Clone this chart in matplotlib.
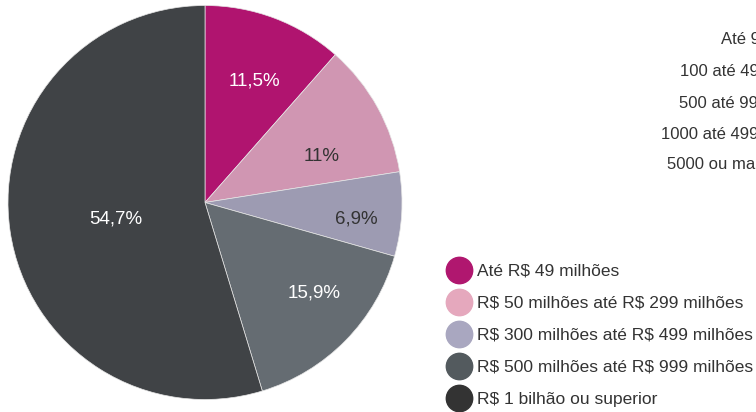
import matplotlib.pyplot as plt
from matplotlib.lines import Line2D
import numpy as np

plt.rcParams['font.family'] = ['Liberation Sans', 'DejaVu Sans']
plt.rcParams['text.parse_math'] = False

# data
categorias = ['Até R$ 49 milhões',
              'R$ 50 milhões até R$ 299 milhões',
              'R$ 300 milhões até R$ 499 milhões',
              'R$ 500 milhões até R$ 999 milhões',
              'R$ 1 bilhão ou superior']
valores = [11.5, 11.0, 6.9, 15.9, 54.7]
rotulos = ['11,5%', '11%', '6,9%', '15,9%', '54,7%']
faixas_func = ['Até 99', '100 até 499', '500 até 999', '1000 até 4999', '5000 ou mais']

# styles
cores_pie = ['#B0146F', '#D096B2', '#9D9BB2', '#656C72', '#404346']
cores_leg = ['#B0176F', '#E5A8BD', '#A9A7C0', '#535A5E', '#333333']
cor_txt = ['white', '#333333', '#333333', 'white', 'white']
lbl_r = [0.667, 0.634, 0.774, 0.72, 0.46]
lbl_dang = [-1.5, -7.2, -2.8, 4.9, 2.0]

W, H = 756, 412
fig = plt.figure(figsize=(W / 100, H / 100), dpi=100)

cx, cy, R = 205, 412 - 202.5, 197
ax = fig.add_axes([(cx - R) / W, (cy - R) / H, 2 * R / W, 2 * R / H])
wedges, _ = ax.pie(valores, colors=cores_pie, startangle=90, counterclock=False,
                   radius=1, wedgeprops=dict(edgecolor='#e6e6e6', linewidth=0.5))
ax.set_xlim(-1, 1)
ax.set_ylim(-1, 1)
ax.axis('off')

for w, t, r, da, c in zip(wedges, rotulos, lbl_r, lbl_dang, cor_txt):
    ang = np.deg2rad((w.theta1 + w.theta2) / 2 + da)
    ax.text(r * np.cos(ang), r * np.sin(ang), t, ha='center', va='center',
            fontsize=13.5, color=c)

# legend
handles = [Line2D([], [], marker='o', linestyle='none', markersize=19,
                  markerfacecolor=c, markeredgecolor=c) for c in cores_leg]
fig.legend(handles, categorias, loc='upper left', bbox_to_anchor=(440 / W, 1 - 255 / H),
           frameon=False, fontsize=12.5, labelspacing=0.97, handletextpad=0.45,
           handlelength=1.2, borderpad=0, labelcolor='#333333')

# partial text at top right (clipped at the edge)
xs = [721, 680, 679, 661, 667]
ys = [40, 72, 103, 134, 165]
for t, x, y in zip(faixas_func, xs, ys):
    fig.text(x / W, 1 - y / H, t, ha='left', va='center', fontsize=12, color='#333333')

fig.savefig('out.png', dpi=100)
